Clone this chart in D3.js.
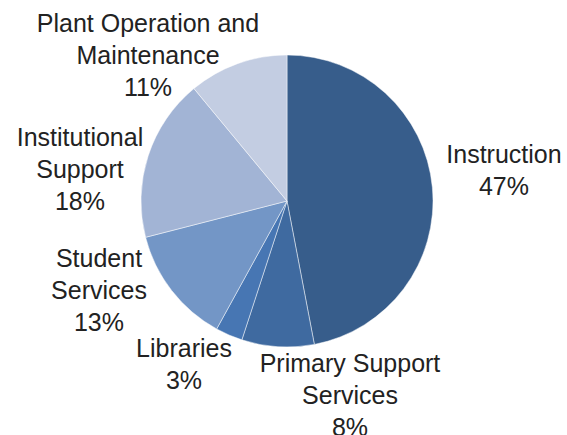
<!DOCTYPE html>
<html>
<head>
<meta charset="utf-8">
<script src="https://cdn.jsdelivr.net/npm/d3@7"></script>
<style>
  body { margin: 0; background: #fff; }
  text { font-family: "Liberation Sans", Arial, sans-serif; }
</style>
</head>
<body>
<div id="chart"></div>
<script>
// Data
const categories = ["Instruction", "Primary Support Services", "Libraries",
    "Student Services", "Institutional Support", "Plant Operation and Maintenance"];
const values = [47, 8, 3, 13, 18, 11];
const colors = ["#375d8b", "#3f6aa0", "#4776b3", "#7396c6", "#a2b4d5", "#c3cde2"];

// Label lines and anchor points (label centre x, first baseline y)
const labelLines = [
    ["Instruction", "47%"],
    ["Primary Support", "Services", "8%"],
    ["Libraries", "3%"],
    ["Student", "Services", "13%"],
    ["Institutional", "Support", "18%"],
    ["Plant Operation and", "Maintenance", "11%"]
];
const labelPos = [[504, 163], [350, 372], [184, 357], [99, 267], [80, 146], [148, 32]];

const width = 567;
const height = 435;
const radius = 146;
const lineHeight = 32;

const color = d3.scaleOrdinal()
    .domain(categories)
    .range(colors);

const svg = d3.select("#chart")
    .append("svg")
    .attr("width", width)
    .attr("height", height);

const g = svg.append("g")
    .attr("transform", "translate(287, 201)");

const pie = d3.pie()
    .value(d => d.value)
    .sort(null);

const arc = d3.arc()
    .outerRadius(radius)
    .innerRadius(0);

const data = categories.map((c, i) => ({ name: c, value: values[i], index: i }));

g.selectAll(".arc")
    .data(pie(data))
    .enter()
    .append("path")
    .attr("class", "arc")
    .attr("fill", d => color(d.data.name))
    .attr("stroke", "#ffffff")
    .attr("stroke-opacity", 0.6)
    .attr("stroke-width", 0.8)
    .attr("d", arc);

// Labels outside the slices
const labels = svg.selectAll(".label")
    .data(data)
    .enter()
    .append("text")
    .attr("class", "label")
    .attr("text-anchor", "middle")
    .attr("font-size", "25px")
    .attr("fill", "#222");

labels.each(function(d) {
    const [x, y] = labelPos[d.index];
    d3.select(this).selectAll("tspan")
        .data(labelLines[d.index])
        .enter()
        .append("tspan")
        .attr("x", x)
        .attr("y", (t, j) => y + j * lineHeight)
        .text(t => t);
});
</script>
</body>
</html>
